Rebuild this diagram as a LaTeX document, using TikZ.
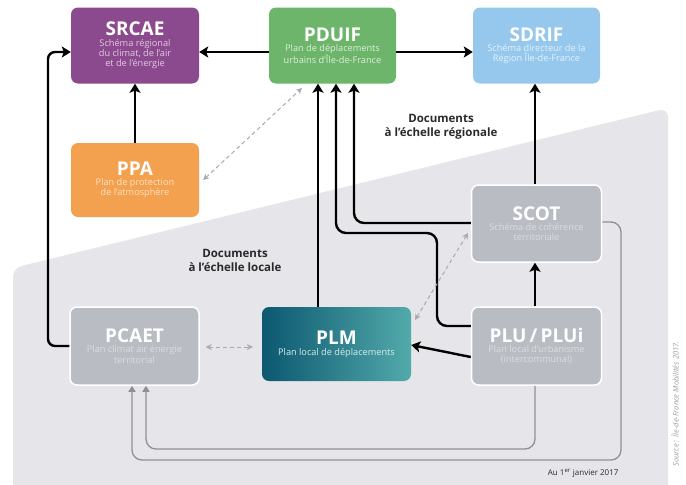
\documentclass[tikz,border=0pt]{standalone}
\usepackage{fontspec}
\setmainfont{Open Sans}
\usetikzlibrary{arrows.meta}

\definecolor{srcaec}{HTML}{8C4A8E}
\definecolor{srcaesub}{HTML}{E2C9E2}
\definecolor{pduifc}{HTML}{6CB56A}
\definecolor{pduifsub}{HTML}{DDF0DA}
\definecolor{sdrifc}{HTML}{95C8EC}
\definecolor{sdrifsub}{HTML}{E4F2FB}
\definecolor{ppac}{HTML}{F3A04F}
\definecolor{ppasub}{HTML}{FCE3C6}
\definecolor{locbox}{HTML}{B9BCC3}
\definecolor{locsub}{HTML}{DCDDE1}
\definecolor{plmleft}{HTML}{0C5870}
\definecolor{plmright}{HTML}{52AAAA}
\definecolor{plmsub}{HTML}{D6ECEE}
\definecolor{backdrop}{HTML}{E6E6EA}
\definecolor{thinline}{HTML}{8E9097}
\definecolor{dashline}{HTML}{A9AAAF}
\definecolor{labeltext}{HTML}{2A2A2A}

\newcommand\plaquetitle[1]{{\color{white}\fontsize{19}{20}\selectfont\bfseries #1}}

\begin{document}
\begin{tikzpicture}[x=1pt,y=-1pt,
  docbox/.style={rounded corners=7pt, minimum width=128pt, minimum height=76pt,
    inner sep=0pt, align=center, font=\fontsize{9.2}{10.2}\selectfont},
  localbox/.style={docbox, fill=locbox, draw=white, line width=1.5pt, text=locsub},
  link/.style={line width=2.4pt, -{Stealth[length=9pt,width=11pt,inset=2pt]}},
  graylink/.style={line width=1.3pt, draw=thinline, rounded corners=10pt,
    -{Triangle[length=6pt,width=7pt]}},
  duallink/.style={line width=1pt, draw=dashline, dash pattern=on 4pt off 3pt,
    {Stealth[length=6pt,width=6pt]}-{Stealth[length=6pt,width=6pt]}},
  scale label/.style={font=\fontsize{11.5}{14}\selectfont\bfseries, text=labeltext, align=center}]

\useasboundingbox (0,0) rectangle (686,485);

% local-scale backdrop
\fill[backdrop, rounded corners=9pt] (13,500) -- (13,268) -- (668,108) -- (668,500);

% regional documents
\node[docbox, fill=srcaec, text=srcaesub] (srcae) at (135,45.5)
  {\plaquetitle{SRCAE}\\[0pt] Schéma régional\\du climat, de l'air\\et de l'énergie};
\node[docbox, fill=pduifc, text=pduifsub, minimum width=127pt] (pduif) at (332.5,45.5)
  {\plaquetitle{PDUIF}\\[0pt] Plan de déplacements\\urbains d'Île-de-France};
\node[docbox, fill=sdrifc, text=sdrifsub, minimum width=127pt] (sdrif) at (536.5,45.5)
  {\plaquetitle{SDRIF}\\[0pt] Schéma directeur de la\\Région Île-de-France};
\node[docbox, fill=ppac, text=ppasub, minimum height=74pt] (ppa) at (135,180)
  {\plaquetitle{PPA}\\[0pt] Plan de protection\\de l'atmosphère};

% local documents
\node[localbox, minimum width=130pt, minimum height=77pt] (scot) at (536.5,223.5)
  {\plaquetitle{SCOT}\\[0pt] Schéma de cohérence\\territoriale};
\node[localbox, minimum width=129pt, minimum height=78pt] (pcaet) at (134.5,346)
  {\plaquetitle{PCAET}\\[0pt] Plan climat air énergie\\territorial};
\node[localbox, minimum width=130pt, minimum height=78pt] (plu) at (536.5,346)
  {\plaquetitle{PLU\,/\,PLUi}\\[0pt] Plan local d'urbanisme\\(intercommunal)};
\node[docbox, left color=plmleft, right color=plmright, text=plmsub,
  minimum width=149pt, minimum height=74pt] (plm) at (336.5,344)
  {\plaquetitle{PLM}\\[1pt] Plan local de déplacements};

% scale labels
\node[scale label] (regional) at (441,127) {Documents\\à l'échelle régionale};
\node[scale label] (locale) at (235,260) {Documents\\à l'échelle locale};

% compatibility links
\draw[link] (pduif.west |- 0,52) -- (srcae.east |- 0,52);
\draw[link] (pduif.east |- 0,52) -- (sdrif.west |- 0,52);
\draw[link] (ppa.north) -- (srcae.south);
\draw[link, rounded corners=7pt] (pcaet.west) -- (48,346) -- (48,52) -- (srcae.west |- 0,52);
\draw[link] (plm.north -| 318,0) -- (pduif.south -| 318,0);
\draw[link, rounded corners=10pt] (plu.west |- 0,326) -- (437,326) -- (437,233)
  -- (336,233) -- (pduif.south -| 336,0);
\draw[link, rounded corners=10pt] (scot.west |- 0,223) -- (354,223) -- (pduif.south -| 354,0);
\draw[link] (scot.north -| 535,0) -- (sdrif.south -| 535,0);
\draw[link] (plu.north -| 535,0) -- (scot.south -| 535,0);
\draw[link] (plu.west |- 0,357) -- (plm.east |- 0,345);

% links taken into account
\draw[graylink] (scot.east |- 0,222) -- (621,222) -- (621,460) -- (132,460) -- (pcaet.south -| 132,0);
\draw[graylink] (plu.south -| 535,0) -- (535,449) -- (146,449) -- (pcaet.south -| 146,0);

% mutual consistency
\draw[duallink] (ppa.east |- 0,180) ++(4,0) coordinate (ppaend) (ppaend) -- (302,88) coordinate (pduifend);
\draw[duallink] (pcaet.east |- 0,347) ++(6,0) coordinate (pcaetend) (pcaetend) -- ([xshift=-9pt]plm.west |- 0,347) coordinate (plmend);
\draw[duallink] (415,320) coordinate (plmcorner) -- (468,233) coordinate (scotcorner);

% date and source
\node[font=\fontsize{8}{9}\selectfont, text=labeltext, anchor=east] (date) at (622,473)
  {Au 1\textsuperscript{er} janvier 2017};
\node[font=\fontsize{7.6}{9}\selectfont\itshape, text=black!38, rotate=90] (source) at (675,404)
  {Source : Île-de-France Mobilités 2017.};
\end{tikzpicture}
\end{document}
